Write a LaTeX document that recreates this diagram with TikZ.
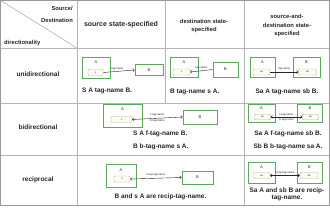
\documentclass[tikz,border=0pt]{standalone}
\usepackage{fontspec}
\setmainfont{Liberation Sans}
\usetikzlibrary{arrows.meta}
\definecolor{gridc}{HTML}{B4B4B4}
\definecolor{bordc}{HTML}{9A9A9A}
\definecolor{txt}{HTML}{262626}
\definecolor{gbox}{HTML}{5DA85D}
\definecolor{ibox}{HTML}{B8B890}
\definecolor{ifill}{HTML}{FBFBF2}
\begin{document}
\begin{tikzpicture}[x=1pt,y=-1pt,
  every node/.style={inner sep=0pt, text=txt},
  state/.style={draw=gbox, line width=0.75pt, fill=white},
  sub/.style={draw=ibox, line width=0.4pt, rounded corners=1pt, fill=ifill, font=\fontsize{2.6}{3}\selectfont},
  nm/.style={font=\fontsize{4}{4}\selectfont},
  tag/.style={font=\fontsize{2.8}{3}\selectfont},
  body/.style={font=\bfseries\fontsize{6.5}{7}\selectfont},
  rowlbl/.style={font=\bfseries\fontsize{6.5}{7}\selectfont},
  headbig/.style={font=\bfseries\fontsize{7}{8}\selectfont},
  head/.style={font=\bfseries\fontsize{5.8}{8.2}\selectfont, align=center},
  corner/.style={font=\bfseries\fontsize{5.8}{7}\selectfont},
  conn/.style={draw=txt, line width=0.4pt, -{Straight Barb[length=1.5pt,width=3pt]}},
  bconn/.style={draw=txt, line width=0.4pt, {Straight Barb[length=1.5pt,width=3pt]}-{Straight Barb[length=1.5pt,width=3pt]}}
]
\useasboundingbox (0,0) rectangle (330,207);
\fill[white] (0,0) rectangle (330,207);
% grid
\draw[gridc, line width=0.6pt] (0,0) -- (77,48);
\draw[gridc, line width=0.6pt] (77,0) -- (77,206) (244,0) -- (244,206) (165,0) -- (165,103);
\draw[gridc, line width=0.6pt] (0,48) -- (330,48) (0,103) -- (330,103) (0,155) -- (330,155);
\draw[bordc, line width=1.2pt] (0.6,0.6) rectangle (329.4,205.8);
% header
\node[corner, anchor=east] (hsrc) at (73,8.5) {Source/};
\node[corner, anchor=east] (hdst) at (73,20) {Destination};
\node[corner, anchor=west] (hdir) at (4,43) {directionality};
\node[headbig] (h1) at (121,25) {source state-specified};
\node[head] (h2) at (204,26) {destination state-\\specified};
\node[head] (h3) at (287,25.5) {source-and-\\destination state-\\specified};
% row labels
\node[rowlbl] (r1) at (38,74) {unidirectional};
\node[rowlbl] (r2) at (38,127) {bidirectional};
\node[rowlbl] (r3) at (38,180) {reciprocal};
% row 1, col 2
\node[state, minimum width=28pt, minimum height=21pt] (A1) at (96,67.5) {};
\node[nm] (A1l) at (96,62) {A};
\node[sub, minimum width=15pt, minimum height=6pt] (s1) at (95.5,72.5) {s};
\node[state, nm, minimum width=28pt, minimum height=11pt] (B1) at (149,70) {B};
\draw[conn] (s1.east) -- (B1.west) node[tag, pos=0.45, above=1.5pt] (tg1) {tag-name};
\node[body, anchor=west] (t1) at (82,91) {S A tag-name B.};
% row 1, col 3
\node[state, minimum width=28pt, minimum height=20pt] (A2) at (184,67) {};
\node[nm] (A2l) at (184,62) {A};
\node[sub, minimum width=17pt, minimum height=6pt] (s2) at (181.5,72) {s};
\node[state, nm, minimum width=25pt, minimum height=15pt] (B2) at (225.5,69.5) {B};
\draw[conn] (B2.west) -- (s2.east) node[tag, midway, above=1.5pt] (tg2) {tag-name};
\node[body, anchor=west] (t2) at (170,92) {B tag-name s A.};
% row 1, col 4
\node[state, minimum width=25pt, minimum height=20pt] (A3) at (262.5,67) {};
\node[nm] (A3l) at (262.5,62) {A};
\node[sub, minimum width=17pt, minimum height=6pt] (sa3) at (261.5,72) {sa};
\node[state, minimum width=27pt, minimum height=20pt] (B3) at (306.5,67) {};
\node[nm] (B3l) at (306.5,62) {B};
\node[sub, minimum width=18pt, minimum height=6pt] (sb3) at (307.5,72) {sb};
\draw[conn] (sa3.east) -- (sb3.west) node[tag, midway, above=1.5pt] (tg3) {tag-name};
\node[body] (t3) at (287,92) {Sa A tag-name sb B.};
% row 2, cols 2-3
\node[state, minimum width=39pt, minimum height=23pt] (A4) at (122.5,116) {};
\node[nm] (A4l) at (122.5,109.5) {A};
\node[sub, minimum width=21pt, minimum height=6pt] (s4) at (121.5,119.5) {s};
\node[state, nm, minimum width=34pt, minimum height=14pt] (B4) at (200,117) {B};
\draw[bconn] (s4.east) -- (B4.west)
  node[tag, midway, above=1.5pt] (tg4a) {f-tag-name}
  node[tag, midway, below=1.5pt] (tg4b) {b-tag-name};
\node[body, anchor=west] (t4a) at (133,134) {S A f-tag-name B.};
\node[body, anchor=west] (t4b) at (133,147) {B b-tag-name s A.};
% row 2, col 4
\node[state, minimum width=27pt, minimum height=18pt] (A5) at (261.5,113.5) {};
\node[nm] (A5l) at (261.5,108.5) {A};
\node[sub, minimum width=16pt, minimum height=5.5pt] (sa5) at (262.5,117) {sa};
\node[state, minimum width=25pt, minimum height=18pt] (B5) at (310,113.5) {};
\node[nm] (B5l) at (310,108.5) {B};
\node[sub, minimum width=16pt, minimum height=5.5pt] (sb5) at (310.5,117) {sb};
\draw[bconn] (sa5.east) -- (sb5.west)
  node[tag, midway, above=1.2pt] (tg5a) {f-tag-name}
  node[tag, midway, below=1.2pt] (tg5b) {b-tag-name};
\node[body] (t5a) at (288,134) {Sa A f-tag-name sb B.};
\node[body] (t5b) at (288,147) {Sb B b-tag-name sa A.};
% row 3, cols 2-3
\node[state, minimum width=30pt, minimum height=23pt] (A6) at (121,175.5) {};
\node[nm] (A6l) at (121,170) {A};
\node[sub, minimum width=16pt, minimum height=6pt] (s6) at (122,179) {s};
\node[state, nm, minimum width=31pt, minimum height=13pt] (B6) at (197.5,177.5) {B};
\draw[bconn] (s6.east) -- (B6.west) node[tag, midway, above=1.5pt] (tg6) {recip-tag-name};
\node[body] (t6) at (160.5,197) {B and s A are recip-tag-name.};
% row 3, col 4
\node[state, minimum width=27pt, minimum height=21pt] (A7) at (261.5,172.5) {};
\node[nm] (A7l) at (261.5,167) {A};
\node[sub, minimum width=17pt, minimum height=6pt] (sa7) at (261.5,175.5) {sa};
\node[state, minimum width=25pt, minimum height=21pt] (B7) at (309.5,172.5) {};
\node[nm] (B7l) at (309.5,167) {B};
\node[sub, minimum width=18pt, minimum height=6pt] (sb7) at (309,175.5) {sb};
\draw[bconn] (sa7.east) -- (sb7.west) node[tag, midway, above=1.5pt] (tg7) {recip-tag-name};
\node[body, align=center, font=\bfseries\fontsize{6.5}{7.2}\selectfont] (t7) at (287,194.5) {Sa A and sb B are recip-\\tag-name.};
\end{tikzpicture}
\end{document}
